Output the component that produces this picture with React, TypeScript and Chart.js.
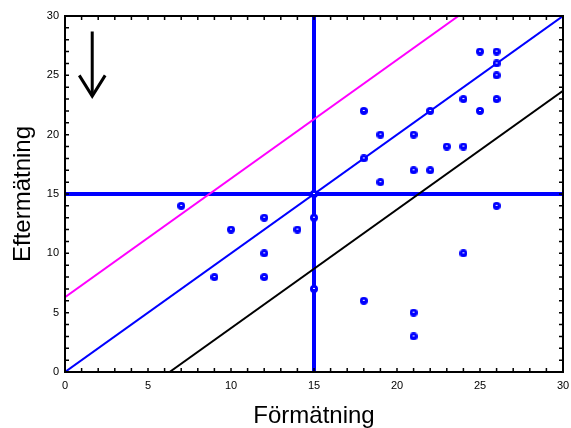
import React, { useEffect, useRef } from "react";
import { Chart, registerables } from "chart.js";

Chart.register(...registerables);

// Scatter data: Förmätning (x) vs Eftermätning (y)
const beforeValues = [7, 9, 10, 12, 12, 12, 14, 15, 15, 15, 18, 18, 18, 19, 19, 21, 21, 21, 21, 22, 22, 23, 24, 24, 24, 25, 25, 26, 26, 26, 26, 26];
const afterValues = [14, 8, 12, 13, 10, 8, 12, 13, 7, 15, 22, 18, 6, 20, 16, 20, 17, 5, 3, 22, 17, 19, 23, 19, 10, 27, 22, 27, 26, 25, 23, 14];

// Reference lines
const identityX = [0, 30];
const identityY = [0, 30];
const upperX = [0, 23.7];
const upperY = [6.3, 30];
const lowerX = [6.3, 30];
const lowerY = [0, 23.7];
const cutoffValue = 15;
const axisMin = 0;
const axisMax = 30;
const majorStep = 5;
const minorStep = 1;

// Arrow (down) in the upper-left corner
const arrowShaftX = [1.64, 1.64];
const arrowShaftY = [28.7, 23.25];
const arrowHeadX = [0.86, 1.64, 2.42];
const arrowHeadY = [25.0, 23.25, 25.0];

const xTitle = "Förmätning";
const yTitle = "Eftermätning";

const zip = (xs: number[], ys: number[]) => xs.map((x, i) => ({ x, y: ys[i] }));

const FONT = "'Liberation Sans', Arial, Helvetica, sans-serif";

const framePlugin = {
  id: "frameTicks",
  afterDatasetsDraw(chart: any) {
    const { ctx, chartArea, scales } = chart;
    const { left, right, top, bottom } = chartArea;
    const xs = scales.x;
    const ys = scales.y;
    ctx.save();
    ctx.strokeStyle = "#000";
    ctx.lineWidth = 1.5;
    ctx.beginPath();
    for (let v = axisMin; v <= axisMax; v += minorStep) {
      const len = 4;
      const px = xs.getPixelForValue(v);
      ctx.moveTo(px, bottom);
      ctx.lineTo(px, bottom - len);
      ctx.moveTo(px, top);
      ctx.lineTo(px, top + len);
      const py = ys.getPixelForValue(v);
      ctx.moveTo(left, py);
      ctx.lineTo(left + len, py);
      ctx.moveTo(right, py);
      ctx.lineTo(right - len, py);
    }
    ctx.stroke();
    ctx.lineWidth = 2;
    ctx.strokeRect(left, top, right - left, bottom - top);
    ctx.restore();
  },
};

function makeDot(): HTMLCanvasElement {
  const c = document.createElement("canvas");
  c.width = 8;
  c.height = 8;
  const g = c.getContext("2d")!;
  g.fillStyle = "#0000ff";
  g.beginPath();
  g.arc(4, 4, 4, 0, Math.PI * 2);
  g.fill();
  g.fillStyle = "#ffffff";
  g.fillRect(3, 3, 2, 1);
  return c;
}

export default function App() {
  const ref = useRef<HTMLCanvasElement | null>(null);

  useEffect(() => {
    if (!ref.current) return;
    const dot = makeDot();
    const lineDs = (data: any[], color: string, width: number) => ({
      type: "line" as const,
      data,
      borderColor: color,
      backgroundColor: color,
      borderWidth: width,
      pointRadius: 0,
      showLine: true,
      fill: false,
      tension: 0,
      borderJoinStyle: "miter" as const,
      borderCapStyle: "butt" as const,
    });
    const chart = new Chart(ref.current, {
      type: "scatter",
      data: {
        datasets: [
          {
            type: "scatter",
            data: zip(beforeValues, afterValues),
            pointStyle: dot as any,
            pointRadius: 4,
            borderColor: "#0000ff",
            backgroundColor: "#0000ff",
          } as any,
          lineDs(zip(identityX, identityY), "#0000ff", 2),
          lineDs(zip(upperX, upperY), "#ff00ff", 2),
          lineDs(zip(lowerX, lowerY), "#000000", 2),
          lineDs(zip([axisMin, axisMax], [cutoffValue, cutoffValue]), "#0000ff", 4),
          lineDs(zip([cutoffValue, cutoffValue], [axisMin, axisMax]), "#0000ff", 4),
          { ...lineDs(zip(arrowShaftX, arrowShaftY), "#000000", 3), clip: false } as any,
          { ...lineDs(zip(arrowHeadX, arrowHeadY), "#000000", 3), clip: false } as any,
        ],
      },
      options: {
        animation: false,
        responsive: false,
        maintainAspectRatio: false,
        events: [],
        layout: { padding: { top: 16, right: 0, left: 0, bottom: 0 } },
        plugins: {
          legend: { display: false },
          tooltip: { enabled: false },
        },
        scales: {
          x: {
            type: "linear",
            min: axisMin,
            max: axisMax,
            afterFit: (s: any) => {
              s.height = 56;
              s.paddingLeft = 0;
              s.paddingRight = 8;
            },
            grid: { display: false, drawTicks: false },
            border: { display: false },
            ticks: {
              stepSize: majorStep,
              padding: 7,
              color: "#000",
              font: { family: FONT, size: 11 },
            },
            title: {
              display: true,
              text: xTitle,
              color: "#000",
              font: { family: FONT, size: 24, lineHeight: 1 },
              padding: { top: 0, bottom: 0 },
            },
          },
          y: {
            type: "linear",
            min: axisMin,
            max: axisMax,
            afterFit: (s: any) => {
              s.width = 65;
              s.paddingTop = 16;
              s.paddingBottom = 0;
            },
            grid: { display: false, drawTicks: false },
            border: { display: false },
            ticks: {
              stepSize: majorStep,
              padding: 6,
              color: "#000",
              font: { family: FONT, size: 11 },
            },
            title: {
              display: true,
              text: yTitle,
              color: "#000",
              font: { family: FONT, size: 24, lineHeight: 1 },
              padding: { top: 11, bottom: 0 },
            },
          },
        },
      } as any,
      plugins: [framePlugin],
    });
    return () => chart.destroy();
  }, []);

  return (
    <div style={{ position: "absolute", left: 0, top: 0, width: 571, height: 428, background: "#fff" }}>
      <canvas ref={ref} width={571} height={428} style={{ display: "block" }} />
    </div>
  );
}
